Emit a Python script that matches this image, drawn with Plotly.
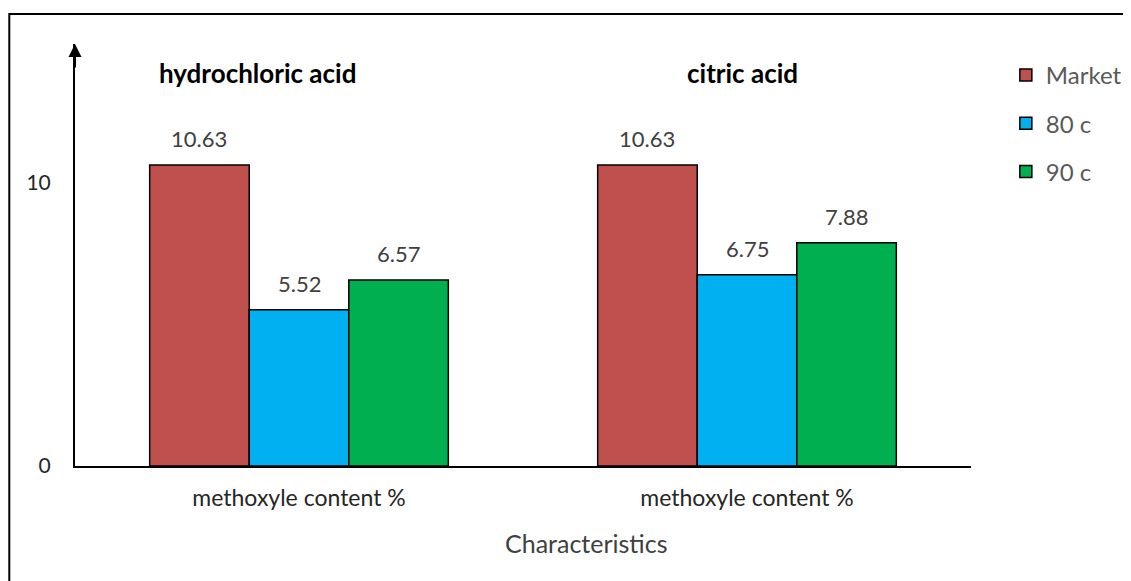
import plotly.graph_objects as go

groups = ["hydrochloric acid", "citric acid"]
category_label = "methoxyle content %"
series_names = ["Market", "80 c", "90 c"]
series_values = {
    "Market": [10.63, 10.63],
    "80 c": [5.52, 6.75],
    "90 c": [6.57, 7.88],
}
colors = {"Market": "#C0504D", "80 c": "#00B0F0", "90 c": "#00B050"}
ytick_vals = [0, 10]

FONT = "Lato"
W, H = 1131, 581
OFF = 8  # page body margin
X0, Y0 = 75, 466  # plot origin in screenshot px
pw, ph = 900, 422
L, T = X0 - OFF, Y0 - ph - OFF
R, B = W - L - pw, H - T - ph

def px(x):
    return (x - X0) / pw

def py(y):
    return (Y0 - y) / ph

fig = go.Figure()
xpos = list(range(len(groups)))
for i, name in enumerate(series_names):
    fig.add_trace(go.Bar(
        x=xpos, y=series_values[name], name=name,
        marker=dict(color=colors[name], line=dict(color="black", width=1.5)),
        legendgroup=name,
    ))

bargap = 1/3
bw = (1 - bargap) / len(series_names)
annotations = []
for i, name in enumerate(series_names):
    off = (i - (len(series_names) - 1) / 2) * bw
    for gx, v in zip(xpos, series_values[name]):
        annotations.append(dict(x=gx + off, y=v, text=f"{v:.2f}", showarrow=False,
                                yanchor="bottom", yshift=11,
                                font=dict(family=FONT, size=22, color="#404040")))
title_x = [258, 745]
for tx, g in zip(title_x, groups):
    annotations.append(dict(x=px(tx), y=py(73), xref="paper", yref="paper", text=f"<b>{g}</b>",
                            showarrow=False, xanchor="center", yanchor="middle",
                            font=dict(family=FONT, size=26, color="black")))
annotations.append(dict(x=px(589), y=py(543), xref="paper", yref="paper",
                        text="Characteristics", showarrow=False, xanchor="center",
                        yanchor="middle",
                        font=dict(family=FONT, size=25, color="#404040")))
# y axis arrow head
annotations.append(dict(x=0, y=py(44), xref="paper", yref="paper", ax=0, ay=25,
                        text="", showarrow=True, arrowhead=2, arrowsize=1.3,
                        arrowwidth=2, arrowcolor="black"))

fig.update_layout(
    width=W, height=H,
    margin=dict(l=L, r=R, t=T, b=B),
    paper_bgcolor="white", plot_bgcolor="white",
    barmode="group", bargap=bargap, bargroupgap=0,
    font=dict(family=FONT, color="#404040"),
    xaxis=dict(range=[-0.5, 1.5], tickvals=xpos, ticktext=[category_label] * len(groups),
               showline=True, linecolor="black", linewidth=2, showgrid=False,
               ticks="", tickfont=dict(family=FONT, size=23, color="#262626"),
               ticklabelstandoff=10, zeroline=False),
    yaxis=dict(range=[0, 14.9], tickvals=ytick_vals, showline=True, linecolor="black",
               linewidth=2, showgrid=False, zeroline=False, ticks="",
               ticklabelstandoff=18,
               tickfont=dict(family=FONT, size=21, color="#262626")),
    legend=dict(x=px(1010), y=py(53), xanchor="left", yanchor="top",
                traceorder="grouped", tracegroupgap=14,
                font=dict(family=FONT, size=24, color="#595959"),
                bgcolor="rgba(0,0,0,0)"),
    annotations=annotations,
    shapes=[dict(type="rect", xref="paper", yref="paper",
                 x0=px(9), x1=px(1145), y0=py(600), y1=py(14),
                 line=dict(color="black", width=2), fillcolor="rgba(0,0,0,0)")],
)

fig.write_html("out.html")
